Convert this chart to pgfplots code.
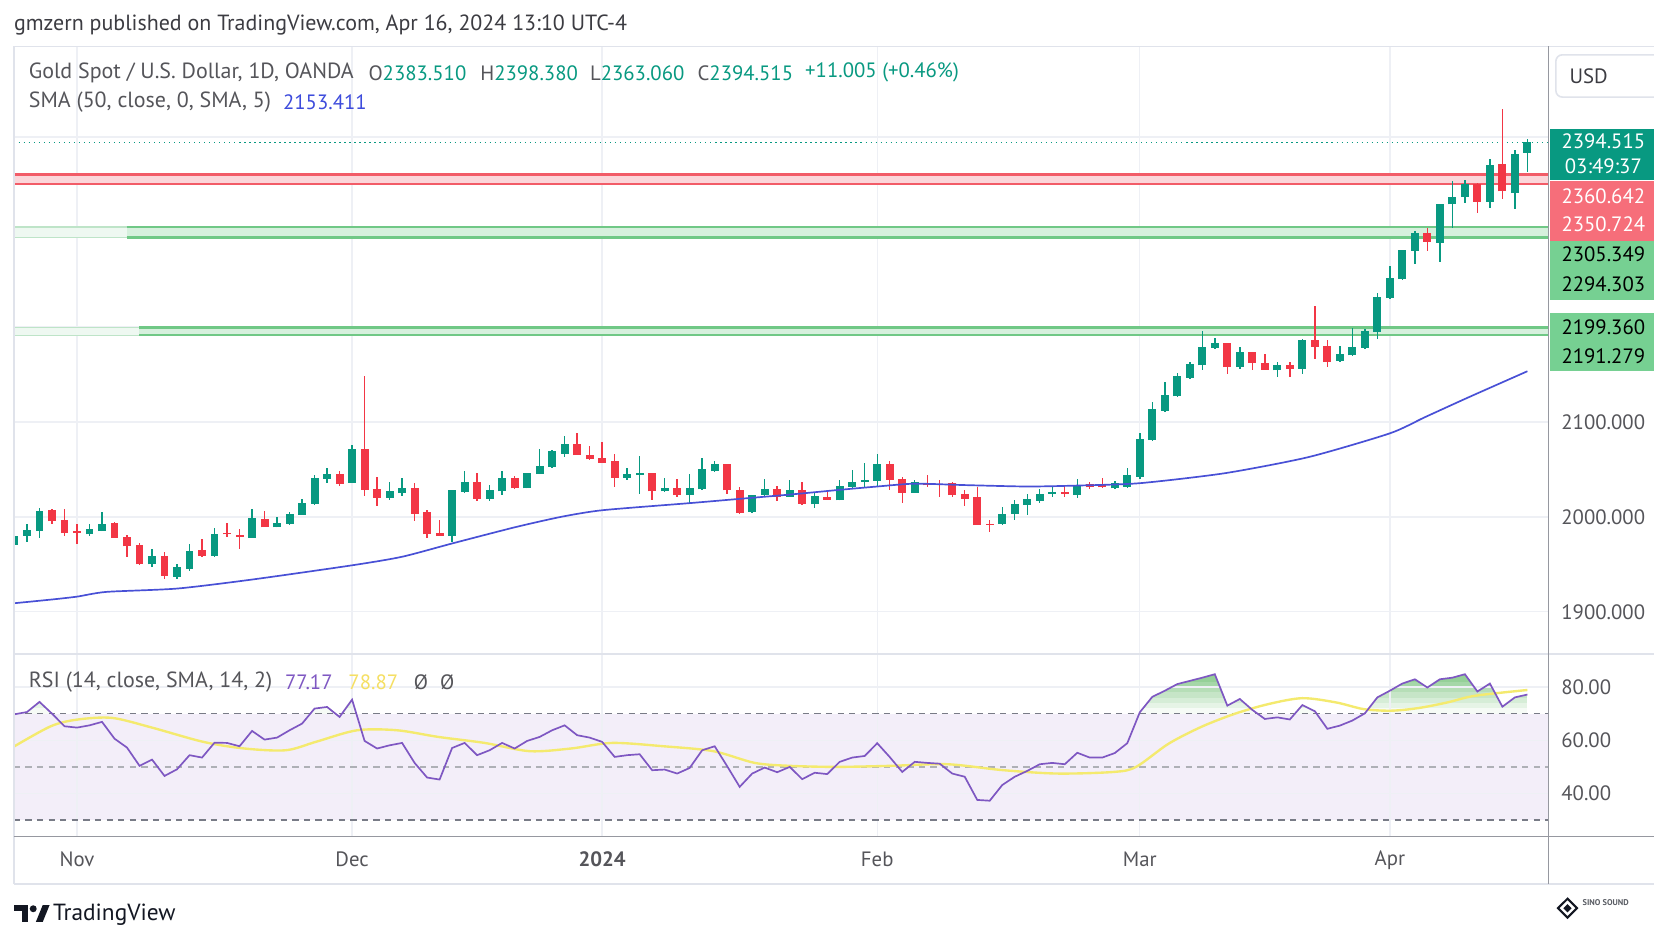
\documentclass[border=0pt]{standalone}
\usepackage{fontspec}
\setmainfont{PT Sans}
\usepackage{pgfplots}
\pgfplotsset{compat=1.18}
\usepackage{pgfplotstable}

\definecolor{upc}{RGB}{8,153,129}
\definecolor{dnc}{RGB}{242,54,69}
\definecolor{smac}{RGB}{72,80,214}
\definecolor{smatxt}{RGB}{61,75,220}
\definecolor{rsic}{RGB}{126,87,194}
\definecolor{sigc}{RGB}{244,234,110}
\definecolor{bandc}{RGB}{243,238,249}
\definecolor{ovc}{RGB}{76,175,80}
\definecolor{gridc}{RGB}{238,240,245}
\definecolor{txtc}{RGB}{85,85,90}
\definecolor{hdrc}{RGB}{60,60,66}
\definecolor{redfill}{RGB}{251,214,218}
\definecolor{redline}{RGB}{242,92,104}
\definecolor{grfill}{RGB}{214,240,221}
\definecolor{grpale}{RGB}{238,248,241}
\definecolor{grline}{RGB}{112,200,134}
\definecolor{grlinep}{RGB}{190,228,200}
\definecolor{redbox}{RGB}{246,110,122}
\definecolor{grbox}{RGB}{118,208,146}
\definecolor{framec}{RGB}{224,227,235}
\definecolor{sepc}{RGB}{150,152,160}
\definecolor{dashc}{RGB}{120,123,134}
\definecolor{logoc}{RGB}{19,23,34}

\newcommand\tvfont{\fontsize{11.2pt}{13pt}\selectfont}
\newcommand\tvtext{\fontsize{11.85pt}{14pt}\selectfont}

% candles: bar index (0 = Nov 1, 2023), open, high, low, close
\pgfplotstableread{
i O H L C
-5 1970 1987.5 1965 1980
-4 1980 1993 1974 1986
-3 1985 2009 1978 2006
1 1981.5 1992 1980 1987
2 1985 2005 1985 1993
6 1950 1966 1947 1959
8 1937 1950 1934.5 1947
9 1945 1971 1943 1964
11 1959 1988 1958 1982.5
14 1978 2008 1978 1999
16 1989 2000 1989 1994
17 1993 2005 1992 2003
18 2002 2019 2002 2015
19 2014 2044 2013 2041
20 2040 2051 2036 2045
22 2036 2075.6 2036 2072
25 2020 2037 2018 2027
26 2025 2041 2021.6 2030
30 1980 2028 1973.5 2028
31 2026 2048 2025 2037
33 2019 2034 2017 2028
34 2027 2048 2023 2041
36 2030 2046 2030 2046
37 2045 2072 2045 2054
38 2053 2070 2052 2069
39 2066.7 2085 2063 2077
44 2041 2051 2038.6 2045
45 2043.9 2064 2024.6 2046
47 2027 2041 2026 2030
49 2023 2045.6 2014 2030
50 2029 2062.5 2028 2050
51 2048 2058.6 2047 2055.4
54 2005.3 2023.5 2004.2 2023.5
55 2022.8 2040.4 2021.8 2029.8
57 2021 2038.6 2021 2028.8
59 2013.3 2025.3 2009.8 2021.8
61 2017.5 2038.6 2017.5 2032.3
62 2031.6 2049.8 2030.9 2036.8
63 2036.5 2056.8 2031.6 2039.3
64 2037.9 2066.7 2031.6 2055.4
67 2025.3 2038.6 2025.3 2036.8
74 1992.3 2010.5 1991.2 2003.5
75 2002.8 2017.5 1996.5 2014
76 2012.3 2024.6 2001.8 2019.3
77 2016.8 2029.8 2014.7 2024.6
78 2024.6 2032.3 2021 2026.3
80 2022.8 2040 2020 2033.3
83 2030 2038 2029 2035.3
84 2031.8 2051 2031 2044
85 2042.3 2088.5 2039.5 2082.5
86 2080.8 2121 2080 2114
87 2111.6 2142 2110.5 2128
88 2127 2151.5 2126.3 2148
89 2146.5 2163 2145.5 2161
90 2159.5 2196 2154.2 2179.4
91 2178 2188.5 2177 2183
93 2157.7 2178.7 2156 2173.5
96 2154.2 2163 2147.2 2160.5
98 2156 2187.5 2150.8 2186.4
101 2164 2180.5 2163 2171.7
102 2170 2199 2169.3 2178.7
103 2178 2198 2177 2196
104 2194.5 2235.4 2187.5 2232
105 2230.5 2264.4 2229.4 2251.5
106 2250.4 2281.6 2249.4 2280.8
107 2280.2 2301 2266 2299.4
109 2289 2329.8 2268 2329.8
110 2329.2 2353.6 2304 2337
111 2336.8 2355 2331 2351
113 2332 2377 2325 2371
115 2341 2386 2324 2382
116 2383.51 2398.38 2363.06 2394.515
}\candleup

\pgfplotstableread{
i O H L C
-2 2007 2008 1993 1995.5
-1 1997 2008 1980 1983
0 1985 1993 1971 1983.5
3 1994 1994.5 1978 1978
4 1979 1980.5 1958 1969
5 1970 1972 1949 1950
7 1959 1963 1934.5 1938
10 1965 1977 1958 1959
12 1983 1994 1979 1981.5
13 1980.5 1987 1966.5 1979
15 1998 2006 1989 1989
21 2045 2048 2033 2035
23 2072 2148 2021.6 2028.5
24 2029.6 2042.5 2011 2020
27 2030 2035.5 1995.5 2003.5
28 2005 2007.7 1978 1981.5
29 1983 1997 1980 1980
32 2037 2046 2017 2019
35 2041 2043 2029 2030
40 2077 2088 2065 2065
41 2065.6 2075 2059.6 2060.7
42 2062.5 2079 2057 2057
43 2059 2066.7 2031.6 2041
46 2046 2046 2017.5 2027
48 2030 2039.6 2021 2023
52 2055.4 2055.4 2024.6 2028
53 2028.8 2031.6 2002.8 2004.2
56 2029.5 2032.3 2016.8 2021
58 2028.8 2036.8 2012.3 2014
60 2021 2028 2017.5 2018.2
65 2055.4 2059 2028 2039.3
66 2040.4 2042 2014.7 2025.3
68 2035.8 2043.9 2031.6 2033.3
69 2035 2038.6 2021 2033.5
70 2035.8 2036.8 2021 2022.8
71 2024.6 2028 2011.2 2019.3
72 2021 2031.6 1991.2 1991.2
73 1993 1996.5 1984.2 1991.5
79 2026.3 2033.3 2021 2024.6
81 2034.6 2037 2029 2031.1
82 2033.6 2040.6 2030 2031.1
92 2183 2183 2150.8 2157.7
94 2173.5 2173.5 2155 2162
95 2162 2171.7 2154.2 2155
97 2160.5 2163 2147.2 2156
99 2186.4 2222.4 2166.5 2179.4
100 2180.5 2186.4 2158.4 2163
108 2299.4 2304 2280.2 2290
112 2351 2352 2320 2332
114 2372 2429.6 2335 2343
}\candledn

\pgfplotstableread{
i r
-5 69.75
-4 70.6
-3 74.4
-2 70
-1 65.25
0 64.75
1 65.6
2 66.9
3 60.6
4 57.25
5 50.4
6 52.75
7 46.6
8 49.1
9 54.4
10 53.5
11 59.1
12 59
13 57.75
14 63.5
15 60.25
16 61
17 63.75
18 66.25
19 71.9
20 72.5
21 68.75
22 75.25
23 59.75
24 56.9
25 58.1
26 59
27 51.5
28 46
29 45.25
30 57.1
31 59
32 54.4
33 56.25
34 59
35 56.9
36 59.75
37 61.25
38 63.75
39 65.6
40 61.9
41 61
42 59.4
43 53.75
44 54.4
45 54.75
46 48.75
47 49
48 47.5
49 49.6
50 56.25
51 57.75
52 50.25
53 42.5
54 47.5
55 49.75
56 48
57 50
58 45.4
59 47.8
60 47.3
61 51.9
62 53.5
63 54.1
64 58.9
65 53.7
66 48.1
67 51.9
68 51.5
69 51.2
70 47.5
71 46.3
72 37.6
73 37.3
74 43.2
75 46.3
76 48.5
77 51
78 51.5
79 51
80 55.3
81 53.5
82 53.5
83 55.2
84 58.9
85 70.5
86 76.3
87 78.6
88 81.1
89 82.3
90 83.5
91 84.8
92 73
93 75.5
94 71.4
95 68
96 68.6
97 67.8
98 73.2
99 70.9
100 64.3
101 65.5
102 67.4
103 70.1
104 76.1
105 78.6
106 81.3
107 82.9
108 79.8
109 82.9
110 83.5
111 84.8
112 78.3
113 81.3
114 72.6
115 76.1
116 77.17
}\rsitab

\pgfplotstableread{
i s
-5 57.75
-2.1 65.25
0 67.75
2.8 68.4
6 64.75
10.1 59.4
13.4 56.9
16.7 56.25
19.1 59.4
22.4 63.75
25.6 63.75
28.9 61.25
32.6 59
36.2 55.9
39.5 56.9
42.8 59
46.9 57.75
50.9 55.9
54.2 51.5
57 50.4
60.7 50
65.1 50.4
69.6 51
74 48.8
78.4 47.5
82.9 48.1
84.7 50
87.3 58.7
90 65.2
92.7 70.1
95.3 73.6
98 75.8
100.7 74.2
102.9 71.7
105.1 71.1
107.3 72.1
109.6 74.2
111.8 76.7
116 78.87
}\sigtab

\begin{document}
\begin{tikzpicture}
\fill[white] (0,0) rectangle (313.6mm,-176.3mm);

% ---------- price pane
\begin{axis}[
  at={(2.6mm,-8.8mm)}, anchor=north west,
  scale only axis, width=291mm, height=115.2mm,
  xmin=-5.062, xmax=117.69, ymin=1855.56, ymax=2495.56,
  axis line style={draw=none}, major tick length=0,
  xtick={0,22,42,64,85,105}, xticklabels={},
  ytick={1900,2000,2100},
  extra y ticks={2200,2300,2400}, extra y tick labels={},
  extra y tick style={grid=major},
  grid=major, grid style={gridc, line width=0.25mm},
  yticklabel pos=right,
  yticklabel style={font=\tvfont, text=txtc, anchor=west, xshift=1.2mm,
    /pgf/number format/fixed, /pgf/number format/fixed zerofill,
    /pgf/number format/precision=3, /pgf/number format/1000 sep={},
    /pgf/number format/assume math mode=true},
]
% horizontal zones
\addplot[draw=none, fill=grpale] coordinates {(-5.062,2294.303)(117.69,2294.303)(117.69,2305.349)(-5.062,2305.349)} -- cycle;
\addplot[grlinep, line width=0.3mm] coordinates {(-5.062,2305.349)(117.69,2305.349)};
\addplot[grlinep, line width=0.3mm] coordinates {(-5.062,2294.303)(117.69,2294.303)};
\addplot[draw=none, fill=grfill] coordinates {(3.97,2294.303)(117.69,2294.303)(117.69,2305.349)(3.97,2305.349)} -- cycle;
\addplot[grline, line width=0.45mm] coordinates {(3.97,2305.349)(117.69,2305.349)};
\addplot[grline, line width=0.45mm] coordinates {(3.97,2294.303)(117.69,2294.303)};

\addplot[draw=none, fill=grpale] coordinates {(-5.062,2191.279)(117.69,2191.279)(117.69,2199.36)(-5.062,2199.36)} -- cycle;
\addplot[grlinep, line width=0.3mm] coordinates {(-5.062,2199.36)(117.69,2199.36)};
\addplot[grlinep, line width=0.3mm] coordinates {(-5.062,2191.279)(117.69,2191.279)};
\addplot[draw=none, fill=grfill] coordinates {(4.98,2191.279)(117.69,2191.279)(117.69,2199.36)(4.98,2199.36)} -- cycle;
\addplot[grline, line width=0.45mm] coordinates {(4.98,2199.36)(117.69,2199.36)};
\addplot[grline, line width=0.45mm] coordinates {(4.98,2191.279)(117.69,2191.279)};

\addplot[draw=none, fill=redfill] coordinates {(-5.062,2350.724)(117.69,2350.724)(117.69,2360.642)(-5.062,2360.642)} -- cycle;
\addplot[redline, line width=0.6mm] coordinates {(-5.062,2360.642)(117.69,2360.642)};
\addplot[redline, line width=0.3mm] coordinates {(-5.062,2350.724)(117.69,2350.724)};

% last price line
\addplot[upc, line width=0.25mm, dash pattern=on 0.25mm off 0.7mm] coordinates {(-5.062,2394.515)(117.69,2394.515)};

% candle wicks
\addplot[draw=none, no markers, error bars/.cd, y dir=both, y explicit, error mark=none,
  error bar style={draw=upc, line width=0.27mm}]
  table[x=i, y=O, y error plus expr=\thisrow{H}-\thisrow{O}, y error minus expr=\thisrow{O}-\thisrow{L}] {\candleup};
\addplot[draw=none, no markers, error bars/.cd, y dir=both, y explicit, error mark=none,
  error bar style={draw=dnc, line width=0.27mm}]
  table[x=i, y=O, y error plus expr=\thisrow{H}-\thisrow{O}, y error minus expr=\thisrow{O}-\thisrow{L}] {\candledn};
% candle bodies
\addplot[draw=none, no markers, error bars/.cd, y dir=plus, y explicit, error mark=none,
  error bar style={draw=upc, line width=1.5mm}]
  table[x=i, y=O, y error plus expr=\thisrow{C}-\thisrow{O}] {\candleup};
\addplot[draw=none, no markers, error bars/.cd, y dir=plus, y explicit, error mark=none,
  error bar style={draw=dnc, line width=1.5mm}]
  table[x=i, y=C, y error plus expr=\thisrow{O}-\thisrow{C}] {\candledn};

% SMA 50
\addplot[smac, line width=0.32mm, smooth, tension=0.4] coordinates {
(-5.062,1909) (-2,1913) (0,1916) (2.35,1921) (8,1924.5) (14,1934) (22,1949) (26,1958)
(30,1972) (35,1989) (38.7,2000) (42,2007) (49,2014.5) (53,2019) (57,2023.5) (61,2028.5)
(64,2032) (67,2035) (71,2033.5) (76,2032) (80,2033) (85,2035.5) (91.8,2046) (98.5,2063)
(105,2088) (107.8,2105) (111.3,2126) (116,2153.411)};
\end{axis}

% ---------- RSI pane
\begin{axis}[
  at={(2.6mm,-124mm)}, anchor=north west,
  scale only axis, width=291mm, height=34.6mm,
  xmin=-5.062, xmax=117.69, ymin=23.86, ymax=92.38,
  axis line style={draw=none}, major tick length=0,
  xtick={0,22,42,64,85,105},
  xticklabels={Nov,Dec,\textbf{2024},Feb,Mar,Apr},
  xticklabel style={font=\tvfont, text=txtc, anchor=center, yshift=-4.4mm},
  ytick={40,60,80},
  yticklabel pos=right,
  yticklabel style={font=\tvfont, text=txtc, anchor=west, xshift=1.2mm,
    /pgf/number format/fixed, /pgf/number format/fixed zerofill,
    /pgf/number format/precision=2,
    /pgf/number format/assume math mode=true},
]
% overbought gradient, in steps from 70 upward
\addplot[draw=none, fill=ovc!5!white] coordinates {(-5,70)(116,70)(116,72)(-5,72)} -- cycle;
\addplot[draw=none, fill=ovc!14!white] coordinates {(-5,72)(116,72)(116,74)(-5,74)} -- cycle;
\addplot[draw=none, fill=ovc!23!white] coordinates {(-5,74)(116,74)(116,76)(-5,76)} -- cycle;
\addplot[draw=none, fill=ovc!32!white] coordinates {(-5,76)(116,76)(116,78)(-5,78)} -- cycle;
\addplot[draw=none, fill=ovc!41!white] coordinates {(-5,78)(116,78)(116,80)(-5,80)} -- cycle;
\addplot[draw=none, fill=ovc!50!white] coordinates {(-5,80)(116,80)(116,82)(-5,82)} -- cycle;
\addplot[draw=none, fill=ovc!59!white] coordinates {(-5,82)(116,82)(116,84)(-5,84)} -- cycle;
\addplot[draw=none, fill=ovc!68!white] coordinates {(-5,84)(116,84)(116,86)(-5,86)} -- cycle;
\addplot[draw=none, fill=ovc!76!white] coordinates {(-5,86)(116,86)(116,92.38)(-5,92.38)} -- cycle;
% white above the RSI line
\addplot[draw=none, fill=white] table[x=i, y=r] {\rsitab}
  -- (axis cs:116,93) -- (axis cs:-5.2,93) -- (axis cs:-5.2,69.75) -- cycle;
% 30-70 background
\addplot[draw=none, fill=bandc] coordinates {(-5.062,30)(117.69,30)(117.69,70)(-5.062,70)} -- cycle;
% grid
\addplot[gridc, line width=0.25mm] coordinates {(-5.062,40)(117.69,40)};
\addplot[gridc, line width=0.25mm] coordinates {(-5.062,60)(117.69,60)};
\addplot[gridc, line width=0.25mm] coordinates {(-5.062,80)(117.69,80)};
\addplot[gridc, line width=0.25mm] coordinates {(0,23.86)(0,92.38)};
\addplot[gridc, line width=0.25mm] coordinates {(22,23.86)(22,92.38)};
\addplot[gridc, line width=0.25mm] coordinates {(42,23.86)(42,92.38)};
\addplot[gridc, line width=0.25mm] coordinates {(64,23.86)(64,92.38)};
\addplot[gridc, line width=0.25mm] coordinates {(85,23.86)(85,92.38)};
\addplot[gridc, line width=0.25mm] coordinates {(105,23.86)(105,92.38)};
% bands
\addplot[dashc, line width=0.28mm, dash pattern=on 1.2mm off 1mm] coordinates {(-5.062,70)(117.69,70)};
\addplot[dashc!60, line width=0.28mm, dash pattern=on 1.2mm off 1mm] coordinates {(-5.062,50)(117.69,50)};
\addplot[dashc, line width=0.28mm, dash pattern=on 1.2mm off 1mm] coordinates {(-5.062,30)(117.69,30)};
\addplot[sigc, line width=0.45mm, smooth, tension=0.5] table[x=i, y=s] {\sigtab};
\addplot[rsic, line width=0.32mm] table[x=i, y=r] {\rsitab};
\end{axis}

% ---------- frame, scales and texts (1 unit = one pixel of the reference at 0.2 mm)
\begin{scope}[x=0.2mm, y=-0.2mm, font=\tvfont]
\draw[framec, line width=0.3mm] (13,44) -- (1568,44);
\draw[framec, line width=0.3mm] (13,44) -- (13,838);
\draw[framec, line width=0.3mm] (13,838) -- (1568,838);
\draw[framec, line width=0.5mm] (13,620) -- (1568,620);
\draw[sepc, line width=0.3mm] (13,793) -- (1568,793);
\draw[sepc, line width=0.35mm] (1468,44) -- (1468,838);

\node[anchor=west, inner sep=0, text=hdrc, font=\tvtext] at (13,24) {gmzern published on TradingView.com, Apr 16, 2024 13:10 UTC-4};

\node[anchor=west, inner sep=0, text=txtc, font=\tvtext] at (27,69) {Gold Spot / U.S. Dollar, 1D, OANDA};
\node[anchor=west, inner sep=0, text=txtc] at (349,69) {O\textcolor{upc}{2383.510}};
\node[anchor=west, inner sep=0, text=txtc] at (455,69) {H\textcolor{upc}{2398.380}};
\node[anchor=west, inner sep=0, text=txtc] at (559,69) {L\textcolor{upc}{2363.060}};
\node[anchor=west, inner sep=0, text=txtc] at (661,69) {C\textcolor{upc}{2394.515}};
\node[anchor=west, inner sep=0, text=upc] at (763,69) {+11.005 (+0.46\%)};
\node[anchor=west, inner sep=0, text=txtc, font=\tvtext] at (27,97) {SMA (50, close, 0, SMA, 5)};
\node[anchor=west, inner sep=0, text=smatxt] at (268,97) {2153.411};

\node[anchor=west, inner sep=0, text=txtc, font=\tvtext] at (27,647) {RSI (14, close, SMA, 14, 2)};
\node[anchor=west, inner sep=0, text=rsic] at (270,647) {77.17};
\node[anchor=west, inner sep=0, text=sigc!90!orange] at (330,647) {78.87};
\node[anchor=west, inner sep=0, text=txtc] at (392,647) {Ø};
\node[anchor=west, inner sep=0, text=txtc] at (417,647) {Ø};

\draw[framec, line width=0.3mm, rounded corners=1.2mm] (1475,52) rectangle (1600,92);
\node[text=hdrc] at (1506,72) {USD};

\fill[upc] (1469,122) rectangle (1568,171);
\node[text=white] at (1520,134) {2394.515};
\node[text=white] at (1520,158) {03:49:37};
\fill[redbox] (1469,172) rectangle (1568,228);
\node[text=white] at (1520,186) {2360.642};
\node[text=white] at (1520,213) {2350.724};
\fill[grbox] (1469,228) rectangle (1568,284);
\node[text=black] at (1520,241) {2305.349};
\node[text=black] at (1520,269) {2294.303};
\fill[grbox] (1469,297) rectangle (1568,352);
\node[text=black] at (1520,310) {2199.360};
\node[text=black] at (1520,338) {2191.279};

% TradingView mark
\fill[logoc] (13,858) rectangle (27,863.5);
\fill[logoc] (21,858) rectangle (27,874);
\fill[logoc] (31.5,861.5) circle (3.3);
\fill[logoc] (34,874) -- (40.5,858) -- (47,858) -- (40.5,874) -- cycle;
\node[anchor=west, inner sep=0, text=logoc, font=\fontsize{12.6pt}{14pt}\selectfont] at (50,867) {TradingView};

% small publisher mark, lower right
\draw[logoc, line width=0.4mm] (1486,852) -- (1495,861) -- (1486,870) -- (1477,861) -- cycle;
\fill[logoc] (1486,857) -- (1490,861) -- (1486,865) -- (1482,861) -- cycle;
\node[anchor=west, inner sep=0, text=logoc!70, font=\fontsize{4.5pt}{5pt}\selectfont\bfseries] at (1500,856) {SINO SOUND};
\end{scope}
\pgfresetboundingbox
\path[use as bounding box] (0,0) rectangle (313.6mm,-176.3mm);
\end{tikzpicture}
\end{document}
